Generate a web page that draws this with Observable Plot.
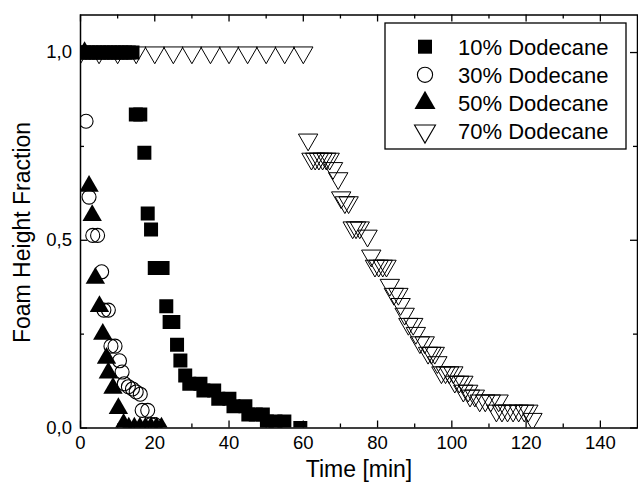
<!DOCTYPE html>
<html>
<head>
<meta charset="utf-8">
<script src="https://cdn.jsdelivr.net/npm/d3@7"></script>
<script src="https://cdn.jsdelivr.net/npm/@observablehq/plot@0.6"></script>
<style>
  body { margin: 0; background: #fff; font-family: "Liberation Sans", Arial, sans-serif; }
  #wrap { position: relative; width: 638px; height: 492px; }
</style>
</head>
<body>
<div id="wrap"></div>
<script>
// ---- data ----
const seriesNames = ["10% Dodecane", "30% Dodecane", "50% Dodecane", "70% Dodecane"];

const t10 = [0,1,2,3,4,5,6,7,8,9,10,11,12,13,14,
  14.9,16.1,17.2,18.1,19.0,20.0,21.0,22.1,23.1,24.0,25.0,26.0,26.9,28.2,
  29.3,32.3,33.1,36.0,37.1,40.1,41.2,44.4,45.2,47.2,49.1,50.2,52.5,54.9,59.2];
const f10 = [1,1,1,1,1,1,1,1,1,1,1,1,1,1,1,
  0.835,0.835,0.733,0.571,0.529,0.426,0.426,0.426,0.324,0.282,0.282,0.222,0.18,0.14,
  0.118,0.118,0.10,0.10,0.078,0.078,0.058,0.058,0.036,0.036,0.036,0.017,0.017,0.017,0.0];

const t30 = [1.5,2.3,3.3,4.6,5.7,6.3,7.5,8.2,9.3,10.5,11.2,11.8,12.9,14.0,15.0,16.1,16.6,18.1,19.0,20.0];
const f30 = [0.817,0.615,0.513,0.513,0.416,0.314,0.314,0.218,0.218,0.179,0.149,0.118,0.110,0.104,0.096,0.090,0.047,0.047,0.009,0.009];

const t50 = [1.1,2.3,3.15,4.0,5.1,6.0,7.0,7.5,8.75,10.2,11.6,13.0,14.5,16.0,17.5,19.0,20.5,21.8];
const f50 = [1.0,0.644,0.566,0.399,0.324,0.25,0.186,0.147,0.106,0.052,0.01,0,0,0,0,0,0,0];

const t70 = [0,5,10,15,20,25,30,35,40,45,50,55,60,
  61.3,62.2,63.2,64.2,65.2,66.2,67.1,68.0,69.4,70.2,71.2,72.2,73.3,74.2,75.2,77.3,78.3,
  79.3,80.3,81.4,82.4,83.3,84.4,85.6,86.2,87.3,88.3,89.6,90.3,91.4,92.7,93.6,94.5,95.4,96.1,
  97.2,98.3,99.3,100.4,100.8,102.0,103.1,103.1,104.4,104.9,106.2,
  107.5,109.0,110.5,112.6,112.0,113.5,115.0,116.5,118.0,119.5,120.6,121.7];
const f70 = [1,1,1,1,1,1,1,1,1,1,1,1,1,
  0.768,0.717,0.717,0.717,0.717,0.717,0.717,0.692,0.665,0.614,0.601,0.601,0.534,0.534,0.534,0.512,0.459,
  0.432,0.432,0.432,0.432,0.381,0.357,0.357,0.330,0.304,0.277,0.277,0.253,0.228,0.228,0.200,0.200,0.200,0.175,
  0.148,0.148,0.148,0.148,0.123,0.123,0.123,0.099,0.099,0.086,0.086,
  0.073,0.073,0.073,0.073,0.046,0.046,0.046,0.046,0.046,0.046,0.046,0.024];

const xMajor = [0,20,40,60,80,100,120,140];
const xMinor = [10,30,50,70,90,110,130];
const yMajor = [0,0.5,1.0];
const yMinor = [0.25,0.75];

// ---- build tables ----
const toRows = (ts, fs) => ts.map((t, i) => ({t, f: fs[i]}));
const d10 = toRows(t10, f10), d30 = toRows(t30, f30), d50 = toRows(t50, f50), d70 = toRows(t70, f70);

const triangleDown = {
  draw(context, size) {
    const y = Math.sqrt(size / (Math.sqrt(3) * 3));
    context.moveTo(0, 2 * y);
    context.lineTo(-Math.sqrt(3) * y, -y);
    context.lineTo(Math.sqrt(3) * y, -y);
    context.closePath();
  }
};

const W = 638, H = 492, mL = 80, mR = 1, mT = 14.5, mB = 64.5;
const pW = W - mL - mR, pH = H - mT - mB;
const rSq = 7.9, rCi = 7, rTr = 7.2;

const chart = Plot.plot({
  width: W, height: H,
  marginLeft: mL, marginRight: mR, marginTop: mT, marginBottom: mB,
  style: {fontFamily: '"Liberation Sans", Arial, sans-serif', fontSize: "18px", background: "white", color: "black", overflow: "visible"},
  x: {domain: [0, 150], label: null},
  y: {domain: [0, 1.1], label: null},
  marks: [
    Plot.ruleX(xMajor, {x: d => d, insetTop: pH - 7, stroke: "black", strokeWidth: 1.3}),
    Plot.ruleX(xMajor, {x: d => d, insetBottom: pH - 7, stroke: "black", strokeWidth: 1.3}),
    Plot.ruleX(xMinor, {x: d => d, insetTop: pH - 4, stroke: "black", strokeWidth: 1.3}),
    Plot.ruleX(xMinor, {x: d => d, insetBottom: pH - 4, stroke: "black", strokeWidth: 1.3}),
    Plot.ruleY(yMajor, {y: d => d, insetRight: pW - 7, stroke: "black", strokeWidth: 1.3}),
    Plot.ruleY(yMajor, {y: d => d, insetLeft: pW - 7, stroke: "black", strokeWidth: 1.3}),
    Plot.ruleY(yMinor, {y: d => d, insetRight: pW - 4, stroke: "black", strokeWidth: 1.3}),
    Plot.ruleY(yMinor, {y: d => d, insetLeft: pW - 4, stroke: "black", strokeWidth: 1.3}),
    Plot.dot(d70, {x: "t", y: "f", symbol: triangleDown, r: rTr, fill: "none", stroke: "black", strokeWidth: 1, clip: true}),
    Plot.dot(d30, {x: "t", y: "f", symbol: "circle", r: rCi, fill: "none", stroke: "black", strokeWidth: 1.1, clip: true}),
    Plot.dot(d10, {x: "t", y: "f", symbol: "square", r: rSq, fill: "black", stroke: "none", clip: true}),
    Plot.dot(d50, {x: "t", y: "f", symbol: "triangle", r: rTr, fill: "black", stroke: "none", clip: true}),
    Plot.frame({stroke: "black", strokeWidth: 1.5}),
    Plot.axisX(xMajor, {tickSize: 0, tickPadding: 7.5, fontSize: 18.5, label: null}),
    Plot.axisY(yMajor, {tickSize: 0, tickPadding: 8.5, fontSize: 18.5, label: null,
      tickFormat: d => d.toFixed(1).replace(".", ",")}),
    Plot.text(["Time [min]"], {frameAnchor: "bottom", dy: 42, fontSize: 23, lineAnchor: "middle", textAnchor: "middle"}),
    Plot.text(["Foam Height Fraction"], {frameAnchor: "left", dx: -58, dy: 11, rotate: -90, fontSize: 23, lineAnchor: "middle", textAnchor: "middle"})
  ]
});

document.getElementById("wrap").appendChild(chart);

// ---- legend (inside the SVG) ----
const svg = d3.select(chart);
const lg = svg.append("g").attr("text-anchor", "start");
lg.append("rect").attr("x", 385).attr("y", 23).attr("width", 241).attr("height", 126)
  .attr("fill", "white").attr("stroke", "black").attr("stroke-width", 1.3);
const legendSym = [
  {s: d3.symbolSquare, r: rSq, fill: "black", stroke: "none"},
  {s: d3.symbolCircle, r: 7.6, fill: "none", stroke: "black"},
  {s: d3.symbolTriangle, r: 7.8, fill: "black", stroke: "none"},
  {s: triangleDown, r: 7.8, fill: "none", stroke: "black"}
];
seriesNames.forEach((name, i) => {
  const cy = 46.7 + i * 28.1;
  const ls = legendSym[i];
  lg.append("path")
    .attr("transform", `translate(425,${cy})`)
    .attr("d", d3.symbol(ls.s, Math.PI * ls.r * ls.r)())
    .attr("fill", ls.fill).attr("stroke", ls.stroke).attr("stroke-width", 1.1);
  lg.append("text").attr("x", 458).attr("y", cy).attr("dy", "0.36em")
    .attr("text-anchor", "start")
    .attr("font-size", 22).attr("fill", "black").text(name);
});
</script>
</body>
</html>
